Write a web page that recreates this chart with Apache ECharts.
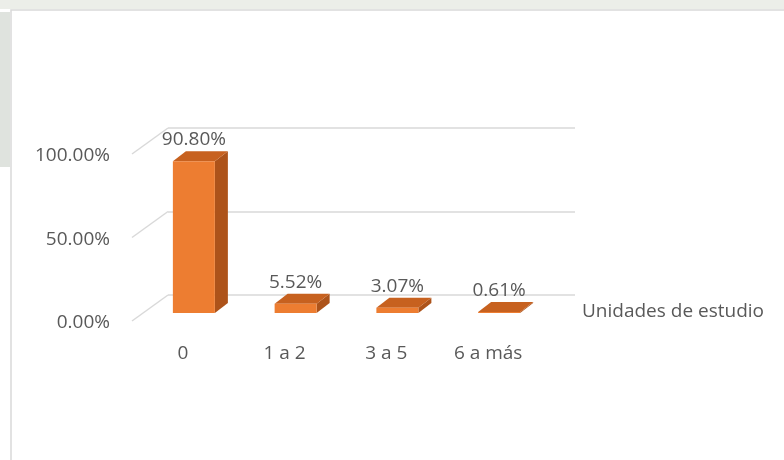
<!DOCTYPE html>
<html><head><meta charset="utf-8">
<script src="https://cdn.jsdelivr.net/npm/echarts@6/dist/echarts.min.js"></script>
<style>html,body{margin:0;padding:0;background:#fff}#c{width:784px;height:460px}</style>
</head><body><div id="c"></div>
<script>
const categories = ['0', '1 a 2', '3 a 5', '6 a más'];
const values = [90.80, 5.52, 3.07, 0.61];
const yTicks = [0, 50, 100];
const axisName = 'Unidades de estudio';

const FONT = '"Open Sans", sans-serif';
const TXT = '#595959';
const DEPTH_X = -36, DEPTH_Y = 26;   // wall -> front floor edge
const OFF_X = -25, OFF_Y = 18;       // wall -> bar front face
const BW = 42, BDX = 13, BDY = -10;  // bar front width and bar depth

const chart = echarts.init(document.getElementById('c'), null, {renderer: 'canvas'});
chart.setOption({
  animation: false,
  backgroundColor: '#fff',
  graphic: [
    {type: 'rect', shape: {x: 0, y: 0, width: 784, height: 9}, style: {fill: '#eceee9'}, silent: true},
    {type: 'rect', shape: {x: 0, y: 12, width: 10, height: 155}, style: {fill: '#dfe3de'}, silent: true},
    {type: 'rect', shape: {x: 11, y: 10, width: 800, height: 500}, style: {fill: 'none', stroke: '#d9d9d9', lineWidth: 1.5}, silent: true}
  ],
  grid: [
    {left: 168, top: 128, width: 407, height: 167},
    {left: 132, top: 156, width: 407, height: 167}
  ],
  xAxis: [
    {type: 'category', gridIndex: 0, data: categories,
     axisLine: {show: false}, axisTick: {show: false}, axisLabel: {show: false},
     name: axisName, nameLocation: 'end', nameGap: 7,
     nameTextStyle: {color: TXT, fontFamily: FONT, fontSize: 19, verticalAlign: 'top', padding: [7, 0, 0, 0]}},
    {type: 'category', gridIndex: 1, data: categories,
     axisLine: {show: false}, axisTick: {show: false},
     axisLabel: {color: TXT, fontFamily: FONT, fontSize: 19, margin: 21}}
  ],
  yAxis: [
    {type: 'value', gridIndex: 0, min: 0, max: 100, interval: 50,
     axisLine: {show: false}, axisTick: {show: false}, axisLabel: {show: false},
     splitLine: {lineStyle: {color: '#d9d9d9', width: 1.5}}},
    {type: 'value', gridIndex: 1, min: 0, max: 100, interval: 50,
     axisLine: {show: false}, axisTick: {show: false}, splitLine: {show: false},
     axisLabel: {color: TXT, fontFamily: FONT, fontSize: 19, margin: 22,
       formatter: v => v.toFixed(2) + '%'}}
  ],
  series: [
    {
      type: 'custom', xAxisIndex: 0, yAxisIndex: 0,
      data: yTicks.map(t => [0, t]),
      renderItem(params, api) {
        const p = api.coord([0, api.value(1)]);
        const x = params.coordSys.x;
        return {type: 'line', shape: {x1: x, y1: p[1], x2: x + DEPTH_X, y2: p[1] + DEPTH_Y},
                style: {stroke: '#d9d9d9', lineWidth: 1.5}};
      }
    },
    {
      type: 'custom', xAxisIndex: 0, yAxisIndex: 0,
      data: values.map((v, i) => [i, v]),
      renderItem(params, api) {
        const i = api.value(0), v = api.value(1);
        const b = api.coord([i, 0]), t = api.coord([i, v]);
        const cx = b[0] + OFF_X;
        const x0 = cx - BW / 2, x1 = cx + BW / 2;
        const yb = b[1] + OFF_Y, yt = t[1] + OFF_Y;
        return {type: 'group', children: [
          {type: 'polygon', shape: {points: [[x1, yt], [x1 + BDX, yt + BDY], [x1 + BDX, yb + BDY], [x1, yb]]},
           style: {fill: '#ad531a'}},
          {type: 'polygon', shape: {points: [[x0, yt], [x1, yt], [x1 + BDX, yt + BDY], [x0 + BDX, yt + BDY]]},
           style: {fill: '#c7611f'}},
          {type: 'rect', shape: {x: x0, y: yt, width: BW, height: Math.max(yb - yt, 0.8)},
           style: {fill: '#ed7d31'}},
          {type: 'text', x: cx, y: yt + BDY - 2,
           style: {text: v.toFixed(2) + '%', fill: TXT, font: '19px ' + FONT, align: 'center', verticalAlign: 'bottom'}}
        ]};
      }
    }
  ]
});
</script></body></html>
